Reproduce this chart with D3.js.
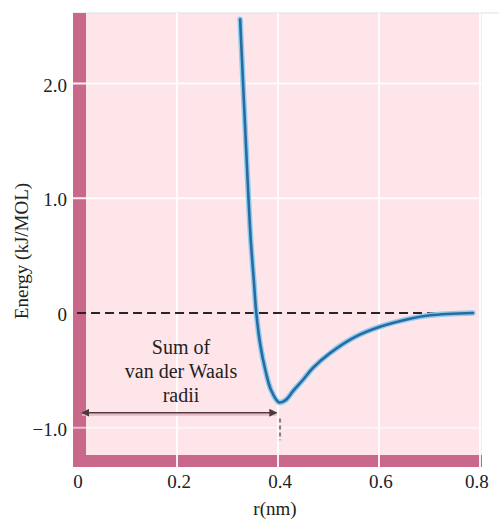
<!DOCTYPE html>
<html>
<head>
<meta charset="utf-8">
<script src="https://cdn.jsdelivr.net/npm/d3@7"></script>
<style>
  html, body { margin: 0; padding: 0; background: #fff; }
  text { font-family: "Liberation Serif", "Times New Roman", serif; fill: #222; }
</style>
</head>
<body>
<div id="viz"></div>
<script>
// potential energy curve
const rValues = [0.325, 0.331, 0.337, 0.341, 0.346, 0.352, 0.357, 0.365, 0.375, 0.386,
  0.402, 0.415, 0.430, 0.450, 0.469, 0.503, 0.552, 0.602, 0.661, 0.701, 0.786];
const energyValues = [2.56, 1.98, 1.42, 1.05, 0.64, 0.29, 0, -0.28, -0.50, -0.67,
  -0.78, -0.76, -0.68, -0.58, -0.48, -0.35, -0.21, -0.12, -0.05, -0.02, 0.0];

const xTicks = [0, 0.2, 0.4, 0.6, 0.8];
const xTickLabels = ["0", "0.2", "0.4", "0.6", "0.8"];
const yTicks = [-1, 0, 1, 2];
const yTickLabels = ["\u22121.0", "0", "1.0", "2.0"];

const zeroLine = [0.002, 0.79];
const radiiArrow = [0.012, 0.397, -0.87]; // from r, to r, at energy
const radiiLabel = ["Sum of", "van der Waals", "radii"];

const W = 499, H = 523;
const svg = d3.select("#viz").append("svg")
  .attr("width", W).attr("height", H);

const x = d3.scaleLinear().domain([-0.006, 0.804]).range([73, 482]);
const y = d3.scaleLinear().domain([-1.343, 2.615]).range([467, 13]);

const [x0, x1] = x.range();
const [yB, yT] = y.range();

// background
svg.append("rect")
  .attr("x", x0).attr("y", yT)
  .attr("width", x1 - x0).attr("height", yB - yT)
  .attr("fill", "#fde5ea");

// top hairline
svg.append("line")
  .attr("x1", x0).attr("x2", W)
  .attr("y1", yT).attr("y2", yT)
  .attr("stroke", "#d6e3ea").attr("stroke-width", 1);

// left and bottom thick bars
svg.append("rect")
  .attr("x", x0).attr("y", yT)
  .attr("width", 13).attr("height", yB - yT)
  .attr("fill", "#c9688b");
svg.append("rect")
  .attr("x", x0).attr("y", yB - 12)
  .attr("width", x1 - x0).attr("height", 12)
  .attr("fill", "#c9688b");

// grid
svg.append("g").selectAll("line")
  .data(xTicks.slice(1))
  .join("line")
  .attr("x1", d => x(d)).attr("x2", d => x(d))
  .attr("y1", yT).attr("y2", yB)
  .attr("stroke", "#fff").attr("stroke-width", 2).attr("opacity", 0.9);

svg.append("g").selectAll("line")
  .data(yTicks.filter(d => d !== 0))
  .join("line")
  .attr("x1", x0).attr("x2", x1)
  .attr("y1", d => y(d)).attr("y2", d => y(d))
  .attr("stroke", "#fff").attr("stroke-width", 2)
  .attr("opacity", d => d < 0 ? 0.6 : 0.9);

// tick labels
svg.append("g").selectAll("text")
  .data(xTicks)
  .join("text")
  .attr("x", d => x(d) + (d === 0.8 ? -3 : 2))
  .attr("y", 488)
  .attr("text-anchor", "middle")
  .attr("font-size", 19)
  .text((d, i) => xTickLabels[i]);

svg.append("g").selectAll("text")
  .data(yTicks)
  .join("text")
  .attr("x", 67)
  .attr("y", d => y(d) + 8)
  .attr("text-anchor", "end")
  .attr("font-size", 19)
  .text((d, i) => yTickLabels[i]);

// axis titles
svg.append("text")
  .attr("x", 275).attr("y", 515)
  .attr("text-anchor", "middle")
  .attr("font-size", 19)
  .text("r(nm)");

svg.append("text")
  .attr("transform", "translate(28,251) rotate(-90)")
  .attr("text-anchor", "middle")
  .attr("font-size", 19)
  .text("Energy (kJ/MOL)");

// zero line
svg.append("line")
  .attr("x1", x(zeroLine[0])).attr("x2", x(zeroLine[1]))
  .attr("y1", y(0)).attr("y2", y(0))
  .attr("stroke", "#2b2326").attr("stroke-width", 2)
  .attr("stroke-dasharray", "9,5");

// energy curve
const pts = rValues.map((r, i) => [r, energyValues[i]]);
const line = d3.line()
  .x(d => x(d[0])).y(d => y(d[1]))
  .curve(d3.curveCatmullRom.alpha(0.5));

svg.append("path")
  .attr("d", line(pts))
  .attr("fill", "none")
  .attr("stroke", "#8fcdee").attr("stroke-width", 5.5)
  .attr("stroke-linecap", "round");
svg.append("path")
  .attr("d", line(pts))
  .attr("fill", "none")
  .attr("stroke", "#2a6aa0").attr("stroke-width", 2.6)
  .attr("stroke-linecap", "round");

// van der Waals arrow
const defs = svg.append("defs");
defs.append("marker")
  .attr("id", "head")
  .attr("viewBox", "0 0 10 10")
  .attr("refX", 9).attr("refY", 5)
  .attr("markerWidth", 5).attr("markerHeight", 5)
  .attr("orient", "auto-start-reverse")
  .append("path")
  .attr("d", "M0,0 L10,5 L0,10 Z")
  .attr("fill", "#4a3a3e");

svg.append("line")
  .attr("x1", x(radiiArrow[0])).attr("x2", x(radiiArrow[1]))
  .attr("y1", y(radiiArrow[2]) + 2).attr("y2", y(radiiArrow[2]) + 2)
  .attr("stroke", "#e8b9c6").attr("stroke-width", 2);
svg.append("line")
  .attr("x1", x(radiiArrow[0])).attr("x2", x(radiiArrow[1]))
  .attr("y1", y(radiiArrow[2])).attr("y2", y(radiiArrow[2]))
  .attr("stroke", "#4a3a3e").attr("stroke-width", 1.6)
  .attr("marker-start", "url(#head)")
  .attr("marker-end", "url(#head)");

svg.append("line")
  .attr("x1", x(0.404)).attr("x2", x(0.404))
  .attr("y1", y(-0.92)).attr("y2", y(-1.11))
  .attr("stroke", "#8a8285").attr("stroke-width", 2.2)
  .attr("stroke-dasharray", "4,3");

svg.append("g").selectAll("text")
  .data(radiiLabel)
  .join("text")
  .attr("x", 181)
  .attr("y", (d, i) => 354 + i * 24)
  .attr("text-anchor", "middle")
  .attr("font-size", 20)
  .text(d => d);
</script>
</body>
</html>
